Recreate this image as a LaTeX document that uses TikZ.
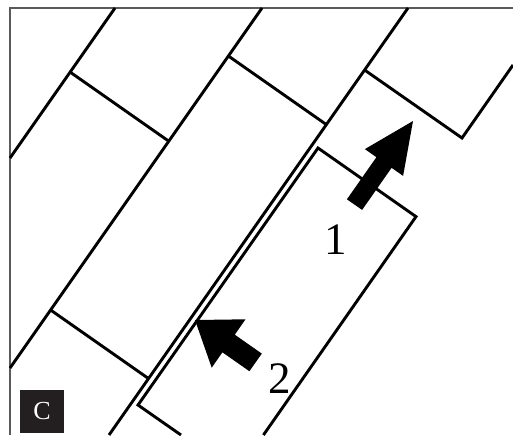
\documentclass[tikz,border=0pt]{standalone}
\usepackage{fontspec}
\setmainfont{Liberation Serif}
\usepackage{xcolor}
\definecolor{panelgray}{HTML}{231F20}
\definecolor{framegray}{HTML}{5A5A5A}

\begin{document}
\begin{tikzpicture}[x=0.5pt, y=-0.5pt,
    seam/.style={line width=1.45pt},
    push/.style={fill=black},
    num/.style={font=\fontsize{22.5}{26}\selectfont, inner sep=0pt},
    panel/.style={fill=panelgray, text=white, inner sep=0pt,
      minimum width=22pt, minimum height=21.5pt, font=\fontsize{13}{15}\selectfont}]
    \useasboundingbox[fill=white] (0,0) rectangle (513,435);
    % --- frame ---
    \draw[framegray, line width=0.75pt] (10,435) -- (10,8) -- (513,8);

    % --- long joints of the laid tiles ---
    \draw[seam] (115,8) -- (10,158);
    \draw[seam] (262,8) -- (10,368);
    \draw[seam] (408,8) -- (109,435);

    % --- short joints ---
    \draw[seam] (70,72) -- (168.8,141.2);
    \draw[seam] (228.4,56) -- (326.4,124.6);
    \draw[seam] (364.6,70) -- (462,138) -- (513,65);
    \draw[seam] (50.6,310) -- (148.6,378.6);

    % --- tile slid out of its slot ---
    \coordinate (tl) at (318,148);
    \coordinate (tr) at (416,216.6);
    \coordinate (bl) at (138,405);
    \draw[seam] (181,435) -- (bl) -- (tl) -- (tr) -- (263.4,435);

    % --- push arrows ---
    \path[push] (413,121) -- (403.1,175.9) -- (391.6,167.8) -- (362.1,209.9)
        -- (346.9,199.3) -- (376.4,157.2) -- (364.9,149.1) -- cycle;
    \path[push] (195,320) -- (245.5,319.3) -- (234.8,334.7) -- (261.8,353.6)
        -- (249.4,371.2) -- (222.4,352.3) -- (211.7,367.7) -- cycle;
    \node[num] (one) at (336,240) {1};
    \node[num] (two) at (280,379) {2};

    % --- panel tag ---
    \node[panel] (tag) at (42,411.5) {C};
\end{tikzpicture}
\end{document}
